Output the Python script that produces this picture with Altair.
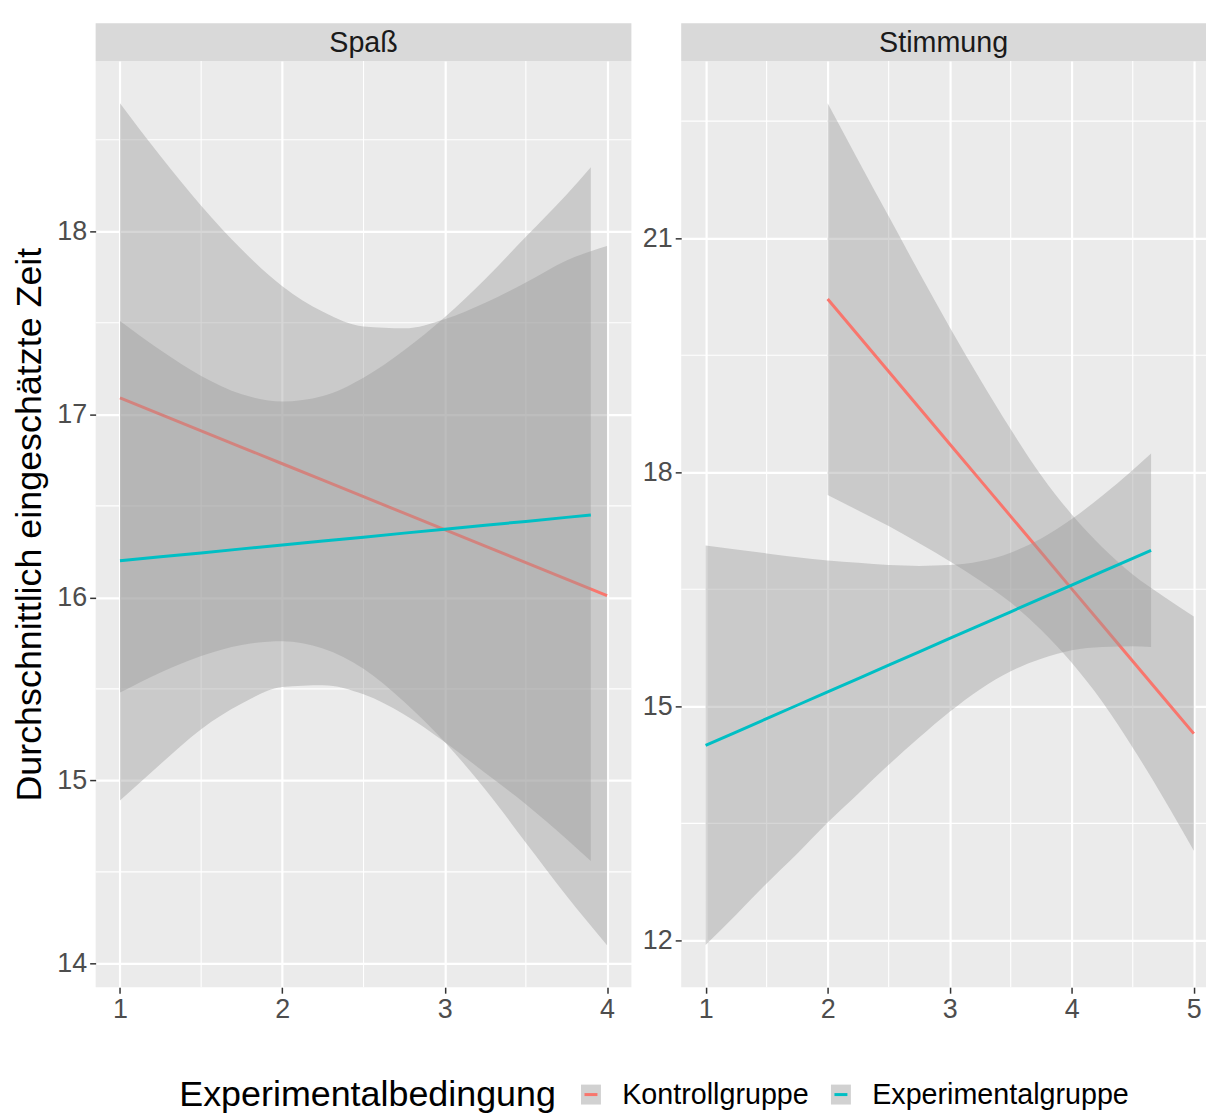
import altair as alt
import pandas as pd

FONT = "Liberation Sans"
GROUPS = ["Kontrollgruppe", "Experimentalgruppe"]
COLORS = ["#F8766D", "#00BFC4"]
BAND_SUFFIX = "_b"
BANDS = [g + BAND_SUFFIX for g in GROUPS]

# ---- Panel "Spaß" ----
spass_k_x = [1, 1.25, 1.5, 1.75, 2, 2.25, 2.5, 2.75, 3, 3.25, 3.5, 3.75, 4]
spass_k_fit = [17.090, 17.000, 16.910, 16.820, 16.730, 16.640, 16.550, 16.460, 16.370, 16.280,
               16.190, 16.100, 16.010]
spass_k_lo = [15.48, 15.59, 15.68, 15.74, 15.76, 15.72, 15.61, 15.43, 15.21, 14.95, 14.66, 14.37, 14.10]
spass_k_hi = [18.70, 18.41, 18.14, 17.90, 17.70, 17.56, 17.48, 17.47, 17.52, 17.61, 17.72, 17.84, 17.92]

spass_e_x = [1, 1.25, 1.5, 1.75, 2, 2.25, 2.5, 2.75, 3, 3.25, 3.5, 3.75, 3.9]
spass_e_fit = [16.200, 16.222, 16.243, 16.265, 16.286, 16.308, 16.329, 16.351, 16.372, 16.394,
               16.415, 16.437, 16.450]
spass_e_lo = [14.89, 15.09, 15.28, 15.42, 15.51, 15.52, 15.47, 15.36, 15.21, 15.04, 14.87, 14.68, 14.56]
spass_e_hi = [17.51, 17.35, 17.21, 17.11, 17.07, 17.10, 17.20, 17.35, 17.53, 17.74, 17.97, 18.20, 18.35]

# ---- Panel "Stimmung" ----
stim_k_x = [2, 2.25, 2.5, 2.75, 3, 3.25, 3.5, 3.75, 4, 4.25, 4.5, 4.75, 5]
stim_k_fit = [20.220, 19.756, 19.292, 18.827, 18.363, 17.899, 17.435, 16.971, 16.506, 16.042,
              15.578, 15.114, 14.650]
stim_k_lo = [17.71, 17.51, 17.31, 17.09, 16.86, 16.61, 16.33, 15.98, 15.56, 15.06, 14.47, 13.83, 13.15]
stim_k_hi = [22.73, 22.00, 21.28, 20.56, 19.86, 19.19, 18.55, 17.96, 17.46, 17.04, 16.69, 16.41, 16.15]

stim_e_x = [1, 1.25, 1.5, 1.75, 2, 2.25, 2.5, 2.75, 3, 3.25, 3.5, 3.75, 4, 4.25, 4.5, 4.65]
stim_e_fit = [14.500, 14.671, 14.842, 15.014, 15.185, 15.356, 15.527, 15.699, 15.870, 16.041,
              16.212, 16.384, 16.555, 16.726, 16.897, 17.000]
stim_e_lo = [11.94, 12.33, 12.73, 13.11, 13.51, 13.88, 14.25, 14.60, 14.93, 15.22, 15.45, 15.61,
             15.72, 15.76, 15.77, 15.76]
stim_e_hi = [17.06, 17.01, 16.96, 16.91, 16.87, 16.84, 16.81, 16.80, 16.81, 16.86, 16.97, 17.15,
             17.40, 17.70, 18.03, 18.24]

# major ticks (labelled) and minor gridlines
spass_x_major = [1, 2, 3, 4]
spass_x_minor = [1.5, 2.5, 3.5]
spass_y_major = [14, 15, 16, 17, 18]
spass_y_minor = [14.5, 15.5, 16.5, 17.5, 18.5]
stim_x_major = [1, 2, 3, 4, 5]
stim_x_minor = [1.5, 2.5, 3.5, 4.5]
stim_y_major = [12, 15, 18, 21]
stim_y_minor = [13.5, 16.5, 19.5, 22.5]

series = [
    ("Spaß", "Kontrollgruppe", spass_k_x, spass_k_fit, spass_k_lo, spass_k_hi),
    ("Spaß", "Experimentalgruppe", spass_e_x, spass_e_fit, spass_e_lo, spass_e_hi),
    ("Stimmung", "Kontrollgruppe", stim_k_x, stim_k_fit, stim_k_lo, stim_k_hi),
    ("Stimmung", "Experimentalgruppe", stim_e_x, stim_e_fit, stim_e_lo, stim_e_hi),
]
rows = []
for p, g, xs, fs, ls, hs in series:
    for x, f, l, h in zip(xs, fs, ls, hs):
        rows.append({"panel": p, "group": g, "band": g + BAND_SUFFIX,
                     "x": x, "fit": f, "lo": l, "hi": h})
df = pd.DataFrame(rows)

LEGEND_COMMON = dict(
    title="Experimentalbedingung",
    orient="none",
    legendX=84,
    legendY=1023,
    direction="horizontal",
    titleOrient="left",
    titleFontSize=36,
    titleFont=FONT,
    titleFontWeight="normal",
    titlePadding=20,
    titleLimit=0,
    labelFontSize=28.8,
    labelFont=FONT,
    labelLimit=0,
    labelOffset=17,
    symbolSize=400,
    columnPadding=17,
    labelExpr=f"replace(datum.label, '{BAND_SUFFIX}', '')",
)

color = alt.Color(
    "group:N",
    scale=alt.Scale(domain=GROUPS, range=COLORS),
    legend=alt.Legend(
        titleColor="black",
        labelColor="black",
        symbolType="M-0.65,0H0.65",
        symbolStrokeWidth=3,
        zindex=2,
        **LEGEND_COMMON,
    ),
)

fill = alt.Fill(
    "band:N",
    scale=alt.Scale(domain=BANDS, range=["#999999", "#999999"]),
    legend=alt.Legend(
        titleColor="transparent",
        labelColor="transparent",
        symbolType="square",
        symbolOpacity=0.45,
        symbolStrokeWidth=0,
        zindex=1,
        **LEGEND_COMMON,
    ),
)


def make_axis(vals, title=None):
    kw = dict(values=vals, labelOverlap=False, labelFlush=False, format="d")
    if title:
        kw.update(
            title=title,
            titleFontSize=36,
            titleFont=FONT,
            titleFontWeight="normal",
            titleColor="black",
            titlePadding=8,
        )
    else:
        kw["title"] = None
    return alt.Axis(**kw)


def panel(name, xdom, ydom, xmaj, xmin, ymaj, ymin, width, height, ytitle=None):
    xs = alt.Scale(domain=xdom, nice=False, zero=False)
    ys = alt.Scale(domain=ydom, nice=False, zero=False)
    xax = make_axis(xmaj)
    yax = make_axis(ymaj, ytitle)
    # minor gridlines
    vgrid = alt.Chart(pd.DataFrame({"v": xmin})).mark_rule(color="white", strokeWidth=1.1).encode(
        x=alt.X("v:Q", scale=xs, axis=xax)
    )
    hgrid = alt.Chart(pd.DataFrame({"v": ymin})).mark_rule(color="white", strokeWidth=1.1).encode(
        y=alt.Y("v:Q", scale=ys, axis=yax)
    )
    base = alt.Chart(df).transform_filter(alt.datum.panel == name)
    layers = [vgrid, hgrid]
    for g in GROUPS:
        sub = base.transform_filter(alt.datum.group == g)
        area = sub.mark_area(opacity=0.4, interpolate="monotone").encode(
            x=alt.X("x:Q", scale=xs, axis=xax),
            y=alt.Y("lo:Q", scale=ys, axis=yax),
            y2="hi:Q",
            fill=fill,
        )
        line = sub.mark_line(strokeWidth=3).encode(
            x=alt.X("x:Q", scale=xs, axis=xax),
            y=alt.Y("fit:Q", scale=ys, axis=yax),
            color=color,
        )
        layers += [area, line]
    strip_df = pd.DataFrame({"label": [name]})
    strip = alt.Chart(strip_df).mark_rect(color="#D9D9D9").encode(
        x=alt.value(0), x2=alt.value(width), y=alt.value(-38), y2=alt.value(0)
    )
    strip_text = alt.Chart(strip_df).mark_text(
        fontSize=28.8, font=FONT, color="#1A1A1A", baseline="middle", align="center"
    ).encode(x=alt.value(width / 2), y=alt.value(-18), text="label:N")
    return alt.layer(*layers, strip, strip_text).properties(width=width, height=height)


left = panel("Spaß", [0.85, 4.15], [13.87, 18.93], spass_x_major, spass_x_minor,
             spass_y_major, spass_y_minor, 538, 930, "Durchschnittlich eingeschätzte Zeit")
right = panel("Stimmung", [0.8, 5.1], [11.4, 23.27], stim_x_major, stim_x_minor,
              stim_y_major, stim_y_minor, 527, 930)

chart = (
    alt.hconcat(left, right, spacing=9)
    .resolve_scale(x="independent", y="independent", color="shared", fill="shared")
    .properties(padding={"left": 3, "top": 13, "right": 0, "bottom": 0})
    .configure(font=FONT)
    .configure_view(fill="#EBEBEB", stroke=None)
    .configure_axis(
        domain=False,
        gridColor="white",
        gridWidth=2.2,
        labelFont=FONT,
        labelFontSize=27,
        labelColor="#4D4D4D",
        labelPadding=3,
        tickSize=6,
        tickWidth=1.5,
        tickColor="#333333",
    )
)

chart.save("out.html", embed_options={"renderer": "svg", "actions": False})
